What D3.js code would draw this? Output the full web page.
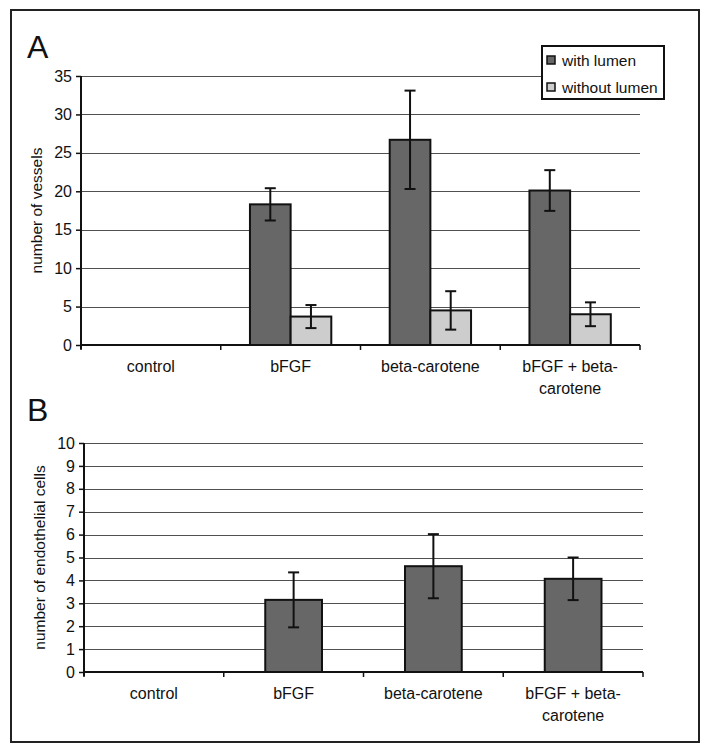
<!DOCTYPE html>
<html>
<head>
<meta charset="utf-8">
<script src="https://cdn.jsdelivr.net/npm/d3@7"></script>
<style>
  html, body { margin: 0; padding: 0; background: #fff; }
  svg text { font-family: "Liberation Sans", Arial, Helvetica, sans-serif; fill: #111; }
</style>
</head>
<body>
<svg id="chart" width="714" height="756"></svg>
<script>
// ---- data ----
const categories = ["control", "bFGF", "beta-carotene", "bFGF + beta-carotene"];
const categoryLabelLines = [["control"], ["bFGF"], ["beta-carotene"], ["bFGF + beta-", "carotene"]];
const seriesNames = ["with lumen", "without lumen"];
const withLumen = [0, 18.3, 26.7, 20.1];
const withLumenErr = [0, 2.1, 6.4, 2.65];
const withoutLumen = [0, 3.7, 4.5, 4.0];
const withoutLumenErr = [0, 1.5, 2.5, 1.55];
const endothelial = [0, 3.15, 4.62, 4.07];
const endothelialErr = [0, 1.2, 1.4, 0.93];
const ticksA = [0, 5, 10, 15, 20, 25, 30, 35];
const ticksB = [0, 1, 2, 3, 4, 5, 6, 7, 8, 9, 10];

const colors = { "with lumen": "#676767", "without lumen": "#cdcdcd" };

const svg = d3.select("#chart");

// outer frame
svg.append("rect").attr("x", 11).attr("y", 10).attr("width", 688).attr("height", 732)
  .attr("fill", "none").attr("stroke", "#222").attr("stroke-width", 2);

function drawPanel(opts) {
  const { left, right, top, bottom, maxY, ticks, yLabel, letter, letterY } = opts;
  const g = svg.append("g");
  const x = d3.scaleBand().domain(categories).range([left, right]).paddingInner(0).paddingOuter(0);
  const y = d3.scaleLinear().domain([0, maxY]).range([bottom, top]);

  // gridlines
  g.append("g").selectAll("line").data(ticks.filter(t => t > 0)).join("line")
    .attr("x1", left).attr("x2", right)
    .attr("y1", d => Math.round(y(d)) + 0.5).attr("y2", d => Math.round(y(d)) + 0.5)
    .attr("stroke", "#505050").attr("stroke-width", 1);

  // y axis
  const yAxis = d3.axisLeft(y).tickValues(ticks).tickSize(5).tickPadding(4).tickFormat(d3.format("d"));
  const ya = g.append("g").attr("transform", `translate(${left},0)`).call(yAxis);
  ya.select(".domain").remove();
  ya.selectAll(".tick line").attr("stroke", "#111").attr("stroke-width", 1.5);
  ya.selectAll(".tick text").style("font-size", "16px").attr("fill", "#111");
  g.append("line").attr("x1", left).attr("x2", left).attr("y1", y(maxY)).attr("y2", bottom + 4)
    .attr("stroke", "#111").attr("stroke-width", 2);

  // letter
  svg.append("text").attr("x", 27).attr("y", letterY).text(letter)
    .style("font-size", "32px");

  // y label
  svg.append("text")
    .attr("transform", `translate(${opts.yLabelX},${(top + bottom) / 2}) rotate(-90)`)
    .attr("text-anchor", "middle").attr("dominant-baseline", "central")
    .style("font-size", "15.5px").text(yLabel);

  return { g, x, y };
}

function drawXAxis(g, x, bottom, left, right) {
  g.append("line").attr("x1", left).attr("x2", right).attr("y1", bottom).attr("y2", bottom)
    .attr("stroke", "#111").attr("stroke-width", 2.2);
  const bounds = categories.map(c => x(c)).concat([x(categories[categories.length - 1]) + x.bandwidth()]);
  g.append("g").selectAll("line").data(bounds).join("line")
    .attr("x1", d => d).attr("x2", d => d).attr("y1", bottom).attr("y2", bottom + 5)
    .attr("stroke", "#111").attr("stroke-width", 1.5);
  const lab = g.append("g").selectAll("text").data(categories).join("text")
    .attr("x", d => x(d) + x.bandwidth() / 2)
    .attr("text-anchor", "middle").style("font-size", "16px");
  lab.each(function (d, i) {
    const t = d3.select(this);
    categoryLabelLines[i].forEach((line, j) => {
      t.append("tspan").attr("x", x(d) + x.bandwidth() / 2)
        .attr("y", bottom + 27 + j * 21.5).text(line);
    });
  });
}

function errorBar(g, cx, y, v, e) {
  const yt = y(v + e), yb = y(v - e);
  g.append("line").attr("x1", cx).attr("x2", cx).attr("y1", yt).attr("y2", yb)
    .attr("stroke", "#111").attr("stroke-width", 2);
  [yt, yb].forEach(yy => g.append("line").attr("x1", cx - 5.5).attr("x2", cx + 5.5)
    .attr("y1", yy).attr("y2", yy).attr("stroke", "#111").attr("stroke-width", 2));
}

// ---- Panel A ----
{
  const left = 81, right = 640, top = 76, bottom = 345;
  const { g, x, y } = drawPanel({ left, right, top, bottom, maxY: 35, ticks: ticksA,
    yLabel: "number of vessels", letter: "A", letterY: 58, yLabelX: 36 });
  const bw = x.bandwidth();
  const xs = d3.scaleBand().domain(seriesNames).range([bw * 0.209, bw * 0.791]).paddingInner(0);
  const seriesVals = { "with lumen": [withLumen, withLumenErr], "without lumen": [withoutLumen, withoutLumenErr] };
  const barsG = g.append("g");
  seriesNames.forEach(s => {
    const [vals, errs] = seriesVals[s];
    categories.forEach((c, i) => {
      if (vals[i] <= 0) return;
      barsG.append("rect")
        .attr("x", x(c) + xs(s)).attr("width", xs.bandwidth())
        .attr("y", y(vals[i])).attr("height", y(0) - y(vals[i]))
        .attr("fill", colors[s]).attr("stroke", "#111").attr("stroke-width", 2);
    });
  });
  seriesNames.forEach(s => {
    const [vals, errs] = seriesVals[s];
    categories.forEach((c, i) => {
      if (vals[i] <= 0) return;
      errorBar(g, x(c) + xs(s) + xs.bandwidth() / 2, y, vals[i], errs[i]);
    });
  });
  drawXAxis(g, x, bottom, left, right);

  // legend
  const lg = svg.append("g");
  lg.append("rect").attr("x", 542).attr("y", 46).attr("width", 122).attr("height", 53)
    .attr("fill", "#fff").attr("stroke", "#111").attr("stroke-width", 2);
  seriesNames.forEach((s, i) => {
    const yy = 60 + i * 27;
    lg.append("rect").attr("x", 547).attr("y", yy - 4).attr("width", 8).attr("height", 8)
      .attr("fill", colors[s]).attr("stroke", "#111").attr("stroke-width", 1.5);
    lg.append("text").attr("x", 562).attr("y", yy).attr("dominant-baseline", "central")
      .style("font-size", "15.5px").text(s);
  });
}

// ---- Panel B ----
{
  const left = 84, right = 643, top = 443, bottom = 672;
  const { g, x, y } = drawPanel({ left, right, top, bottom, maxY: 10, ticks: ticksB,
    yLabel: "number of endothelial cells", letter: "B", letterY: 421, yLabelX: 39 });
  const bw = x.bandwidth();
  categories.forEach((c, i) => {
    if (endothelial[i] <= 0) return;
    g.append("rect")
      .attr("x", x(c) + bw * 0.297).attr("width", bw * 0.406)
      .attr("y", y(endothelial[i])).attr("height", y(0) - y(endothelial[i]))
      .attr("fill", "#676767").attr("stroke", "#111").attr("stroke-width", 2);
  });
  categories.forEach((c, i) => {
    if (endothelial[i] <= 0) return;
    errorBar(g, x(c) + bw / 2, y, endothelial[i], endothelialErr[i]);
  });
  drawXAxis(g, x, bottom, left, right);
}
</script>
</body>
</html>
